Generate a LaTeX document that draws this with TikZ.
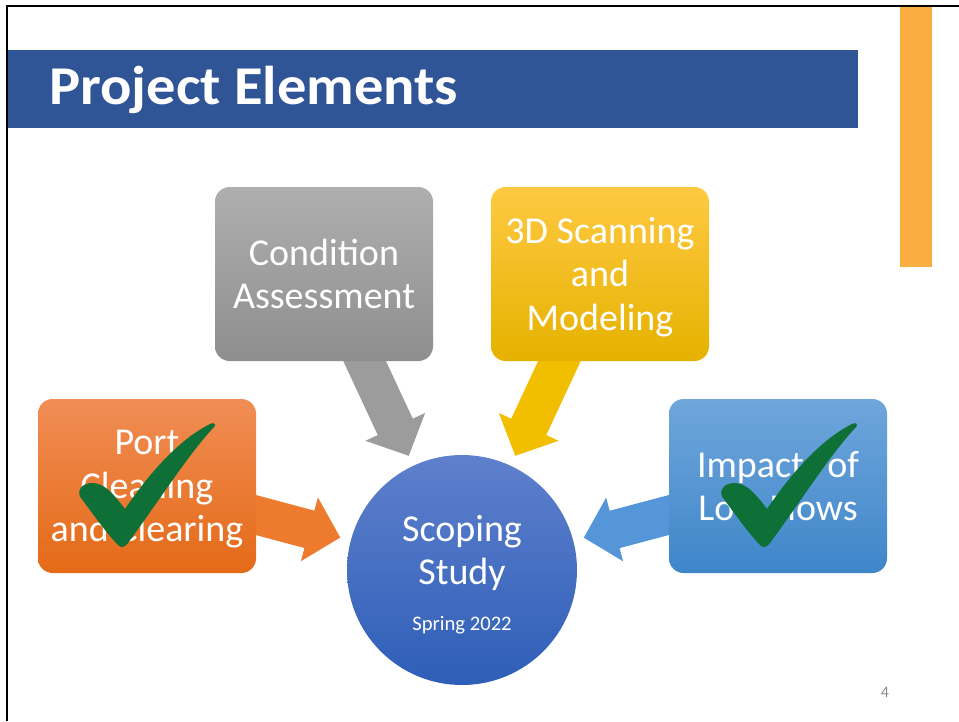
\documentclass[tikz,border=0pt]{standalone}
\usepackage{fontspec}
\setmainfont{Carlito}
\usetikzlibrary{arrows.meta, backgrounds}

\definecolor{barblue}{HTML}{2F5597}
\definecolor{barorange}{HTML}{FAAE42}
\definecolor{graytop}{HTML}{AFAFAF}
\definecolor{graybot}{HTML}{8E8E8E}
\definecolor{grayarrow}{HTML}{9C9C9C}
\definecolor{goldtop}{HTML}{FFC942}
\definecolor{goldbot}{HTML}{E5B200}
\definecolor{goldarrow}{HTML}{F2BE00}
\definecolor{orangetop}{HTML}{F18D55}
\definecolor{orangebot}{HTML}{E46A17}
\definecolor{orangearrow}{HTML}{EE7A2E}
\definecolor{bluetop}{HTML}{6FA6DC}
\definecolor{bluebot}{HTML}{3F86C9}
\definecolor{bluearrow}{HTML}{5496D7}
\definecolor{circtop}{HTML}{5F80CC}
\definecolor{circbot}{HTML}{2E5EB8}
\definecolor{checkgreen}{HTML}{0E7036}
\definecolor{pagegray}{HTML}{8A8A8A}

\begin{document}
\begin{tikzpicture}[x=0.75pt, y=-0.75pt,
    box/.style={rounded corners=11pt, minimum width=163.5pt, minimum height=130.5pt,
        align=center, text=white, inner sep=2pt, font=\fontsize{28.5}{32.5}\selectfont},
    feed/.style={line width=29pt, -{Triangle[width=48pt,length=24pt]}, shorten >=8pt},
    tick/.pic={
        \fill[checkgreen] (0,0)
            .. controls (-12,-12) and (-30,-38) .. (-37,-47)
            .. controls (-42,-54) and (-36,-62) .. (-26,-62)
            .. controls (-16,-62) and (-8,-56) .. (7,-36)
            .. controls (30,-70) and (60,-105) .. (92,-121)
            .. controls (95,-123) and (99,-121) .. (96,-118)
            .. controls (70,-90) and (45,-50) .. (10,-2)
            .. controls (6,3) and (3,3) .. (0,0) -- cycle;
    }]

    % fix the page size
    \useasboundingbox (0,0) rectangle (959,721);

    % slide frame, title bar and side bar
    \draw[line width=2pt] (7,721) -- (7,6) -- (959,6);
    \fill[barblue] (8,50) rectangle (858,128);
    \fill[barorange] (900,7) rectangle (932,267);
    \node[anchor=base west, inner sep=0, text=white,
        font=\bfseries\fontsize{41}{48}\selectfont\addfontfeature{FakeStretch=1.07}] (title) at (49,104) {Project Elements};

    % the centre circle
    \node[circle, minimum size=172.5pt, top color=circtop, bottom color=circbot,
        text=white, align=center, font=\fontsize{28.5}{32.5}\selectfont] (study) at (462,570)
        {\rule{0pt}{27pt}Scoping\\Study\\[2pt]{\fontsize{15.5}{18}\selectfont Spring 2022}};

    % the four elements
    \node[box, top color=graytop, bottom color=graybot] (cond) at (324,274) {Condition\\Assessment};
    \node[box, top color=goldtop, bottom color=goldbot] (scan) at (600,274) {\rule{0pt}{24pt}3D Scanning\\and\\Modeling};
    \node[box, top color=orangetop, bottom color=orangebot, text depth=0pt] (port) at (147,486) {Port\\Cleaning\\and Clearing};
    \node[box, top color=bluetop, bottom color=bluebot] (lowflow) at (778,486) {Impacts of\\Low Flows};

    % block arrows into the circle
    \begin{scope}[on background layer]
        \draw[feed, grayarrow] (cond.center) -- (study);
        \draw[feed, goldarrow] (scan.center) -- (study);
        \draw[feed, orangearrow] (port.center) -- (study);
        \draw[feed, bluearrow] (lowflow.center) -- (study);
    \end{scope}

    % done marks
    \pic at (118,545) {tick};
    \pic at (760,545) {tick};

    % page number
    \node[anchor=base, text=pagegray, font=\fontsize{12}{14}\selectfont] (pagenum) at (885,697) {4};
\end{tikzpicture}
\end{document}
